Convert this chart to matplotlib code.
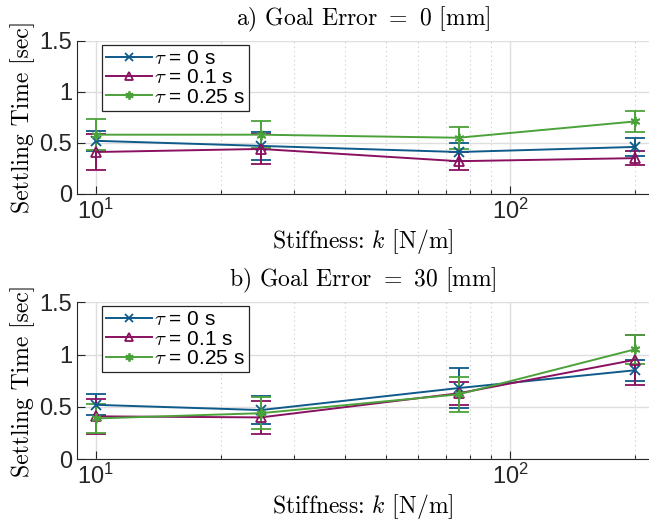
import matplotlib
matplotlib.use('Agg')
import matplotlib.pyplot as plt
from matplotlib.lines import Line2D
from matplotlib.ticker import LogLocator, NullFormatter, FixedLocator

plt.rcParams['font.family'] = ['Liberation Sans', 'DejaVu Sans']
plt.rcParams['mathtext.fontset'] = 'cm'

# stiffness values [N/m]
stiffness = [10, 25, 75, 200]
labels = [r'$\tau$ = 0 s', r'$\tau$ = 0.1 s', r'$\tau$ = 0.25 s']

# a) goal error = 0 mm
a_mean_0 = [0.52, 0.47, 0.41, 0.46]
a_err_0 = [0.10, 0.14, 0.09, 0.09]
a_mean_1 = [0.41, 0.44, 0.32, 0.35]
a_err_1 = [0.18, 0.15, 0.09, 0.07]
a_mean_25 = [0.58, 0.58, 0.55, 0.71]
a_err_25 = [0.15, 0.13, 0.11, 0.10]

# b) goal error = 30 mm
b_mean_0 = [0.52, 0.47, 0.68, 0.85]
b_err_0 = [0.10, 0.13, 0.19, 0.10]
b_mean_1 = [0.41, 0.40, 0.63, 0.95]
b_err_1 = [0.17, 0.16, 0.11, 0.24]
b_mean_25 = [0.39, 0.44, 0.62, 1.05]
b_err_25 = [0.14, 0.15, 0.17, 0.14]

colors = ['#0e5a8a', '#8a1060', '#4ca23a']
markers = ['x', '^', (6, 2, 0)]

serif = {'family': 'cmr10', 'size': 17}


def panel(ax, means, errs, title):
    handles = []
    for m, e, c, mk, lab in zip(means, errs, colors, markers, labels):
        face = 'none' if mk == '^' else c
        ax.errorbar(stiffness, m, yerr=e, color=c, marker=mk, markersize=7,
                    markerfacecolor=face, markeredgewidth=1.3, lw=1.4,
                    elinewidth=1.4, capsize=7.5, capthick=1.4, zorder=3)
        handles.append(Line2D([], [], color=c, marker=mk, markersize=6,
                              markerfacecolor=face, markeredgewidth=1.3,
                              lw=1.4, label=lab))
    ax.set_xscale('log')
    ax.set_xlim(9.02, 216)
    ax.set_ylim(0, 1.5)
    ax.set_yticks([0, 0.5, 1, 1.5])
    ax.set_yticklabels(['0', '0.5', '1', '1.5'])
    ax.xaxis.set_major_locator(FixedLocator([10, 100]))
    ax.set_xticklabels([r'$\mathdefault{10^{1}}$', r'$\mathdefault{10^{2}}$'])
    ax.xaxis.set_minor_locator(LogLocator(base=10, subs=range(2, 10)))
    ax.xaxis.set_minor_formatter(NullFormatter())
    ax.tick_params(which='both', direction='in', labelsize=17, colors='#262626')
    ax.tick_params(which='major', length=6, width=0.8)
    ax.tick_params(which='minor', length=3, width=0.8)
    ax.grid(True, which='major', color='#dedede', lw=1.0, zorder=0)
    ax.grid(True, which='minor', axis='x', color='#c8c8c8', lw=0.8,
            linestyle=(0, (1, 3)), zorder=0)
    for s in ['top', 'right']:
        ax.spines[s].set_visible(False)
    for s in ['left', 'bottom']:
        ax.spines[s].set_color('#262626')
    ax.set_title(title, fontdict=serif, pad=11)
    ax.set_xlabel(r'Stiffness: $k$ [N/m]', fontdict=serif, labelpad=2)
    ax.set_ylabel('Settling Time [sec]', fontdict=serif, labelpad=3)
    leg = ax.legend(handles=handles, loc='upper left',
                    bbox_to_anchor=(0.043, 0.975), fontsize=15,
                    handlelength=2.2, handletextpad=0.1, labelspacing=0.02,
                    borderpad=0.2, borderaxespad=0, fancybox=False,
                    framealpha=1, edgecolor='#262626')
    leg.get_frame().set_linewidth(0.9)


fig = plt.figure(figsize=(6.49, 5.31), dpi=100)
ax1 = fig.add_axes([0.119, 0.635, 0.881, 0.288])
ax2 = fig.add_axes([0.119, 0.135, 0.881, 0.296])

panel(ax1, [a_mean_0, a_mean_1, a_mean_25], [a_err_0, a_err_1, a_err_25],
      r'a) Goal Error $=$ 0 [mm]')
panel(ax2, [b_mean_0, b_mean_1, b_mean_25], [b_err_0, b_err_1, b_err_25],
      r'b) Goal Error $=$ 30 [mm]')

fig.savefig('out.png', dpi=100)
